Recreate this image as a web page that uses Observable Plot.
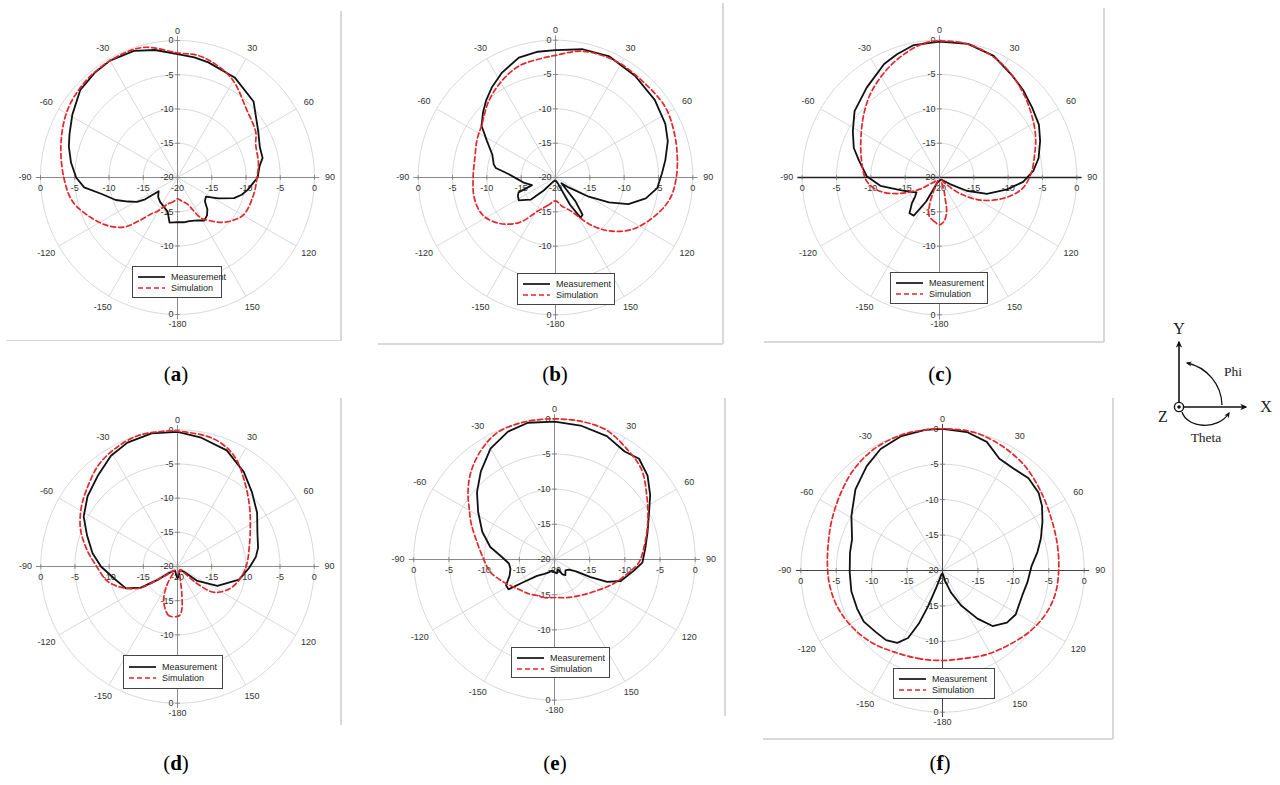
<!DOCTYPE html>
<html><head><meta charset="utf-8">
<script src="https://cdn.jsdelivr.net/npm/d3@7"></script>
<script src="https://cdn.jsdelivr.net/npm/@observablehq/plot@0.6"></script>
<style>
body{margin:0;background:#fff;}
#page{position:relative;width:1280px;height:785px;overflow:hidden;background:#fff;font-family:Arial,"Liberation Sans",sans-serif;}
.panel{position:absolute;}
.legend{position:absolute;border:1px solid #444;background:#fff;box-sizing:border-box;}
.legend .row{position:absolute;left:0;height:10px;display:flex;align-items:center;font-size:9px;color:#222;white-space:nowrap;}
.cap{position:absolute;font-family:"Liberation Serif","DejaVu Serif",serif;font-size:21px;color:#000;transform:translate(-50%,-50%);white-space:nowrap;}
.frame{position:absolute;background:#d8d8d8;}
</style></head>
<body><div id="page"></div>
<script>
// ---------- DATA: [theta (deg, clockwise from top), gain (dB)] ----------
const measA = [[-180,-13.5],[-170,-13.3],[-164,-14.8],[-155,-15.3],[-145,-15.6],[-135,-16.0],[-126,-16.6],[-124,-14.3],[-121,-13.1],[-116,-12.0],[-110,-10.4],[-102,-8.6],[-96,-6.3],[-90,-5.2],[-82,-4.3],[-74,-3.5],[-68,-3.0],[-59,-2.1],[-48,-0.9],[-38,-0.5],[-30,-0.3],[-19,-0.45],[-10,-1.1],[0,-2.0],[8,-2.3],[15,-2.6],[30,-3.2],[45,-4.3],[60,-6.4],[70,-7.2],[77,-7.25],[82,-7.9],[90,-8.3],[100,-9.6],[105,-10.3],[110,-11.2],[117,-13.3],[124,-15.0],[131,-14.7],[137,-13.6],[142,-13.0],[148,-12.6],[155,-13.1],[165,-13.4],[172,-13.4]];
const simA = [[-180,-16.9],[-170,-16.4],[-160,-15.9],[-150,-14.4],[-144,-13.4],[-138,-11.4],[-133,-9.4],[-125,-7.7],[-115,-6.1],[-103,-4.3],[-90,-3.4],[-74,-2.3],[-59,-1.2],[-45,-0.6],[-30,-0.3],[-15,-0.35],[0,-1.8],[11,-2.0],[28,-3.45],[46,-5.9],[60,-6.8],[67,-7.6],[80,-8.0],[90,-8.4],[102,-8.6],[119,-8.9],[128,-9.8],[136,-10.9],[143,-12.1],[150,-13.2],[160,-15.9],[170,-16.5]];

const measB = [[-180,-19.5],[-160,-19.5],[-145,-19.0],[-138,-17.5],[-132,-15.2],[-127,-14.6],[-122,-13.7],[-116,-13.9],[-112,-14.2],[-108,-16.4],[-100,-15.4],[-92,-14.4],[-86,-13.2],[-81,-11.2],[-78,-10.8],[-70,-10.2],[-62,-8.7],[-55,-6.85],[-48,-5.8],[-42,-4.9],[-35,-3.9],[-27,-2.85],[-17,-1.75],[-8,-1.5],[0,-1.45],[12,-0.9],[24,-0.7],[38,-1.2],[52,-1.65],[64,-2.2],[72,-2.8],[81,-3.8],[88,-4.5],[96,-5.1],[103,-6.5],[110,-8.7],[115,-11.4],[120,-14.4],[127,-17.6],[134,-18.8],[140,-15.5],[144,-13.3],[148,-13.1],[152,-15.5],[158,-19.0],[170,-19.5]];
const simB = [[-180,-16.6],[-165,-15.8],[-153,-14.6],[-141,-11.55],[-129,-9.4],[-117,-8.05],[-104,-7.8],[-90,-8.0],[-76,-7.9],[-64,-7.3],[-55,-6.85],[-41,-5.2],[-29,-3.9],[-18,-2.9],[-6,-2.5],[0,-2.2],[12,-1.2],[27,-0.9],[42,-1.1],[57,-1.0],[68,-1.45],[79,-1.95],[90,-2.4],[100,-3.0],[110,-4.3],[124,-6.5],[135,-9.0],[144,-11.6],[154,-14.4],[168,-15.8]];

const measC = [[-180,-19.5],[-165,-19.4],[-156,-19.0],[-151,-16.0],[-146,-13.3],[-140,-13.2],[-133,-14.5],[-128,-15.5],[-123,-16.0],[-116,-15.2],[-108,-14.0],[-98,-11.3],[-89,-9.4],[-78,-8.0],[-71,-6.8],[-62,-5.7],[-52,-4.3],[-39,-3.15],[-26,-1.6],[-19,-1.0],[-11,-0.35],[0,-0.2],[12,-0.1],[24,-0.6],[36,-1.8],[44,-2.4],[53,-3.1],[62,-3.6],[70,-4.4],[79,-5.3],[86,-6.3],[93,-7.8],[100,-10.0],[109,-12.7],[116,-15.6],[122,-18.2],[135,-19.5],[150,-19.6],[165,-19.6]];
const simC = [[-180,-13.1],[-174,-13.5],[-165,-14.2],[-160,-15.8],[-155,-18.5],[-148,-19.5],[-140,-19.5],[-130,-19.0],[-124,-18.0],[-121,-16.7],[-112,-13.8],[-103,-11.1],[-93,-9.4],[-78,-8.4],[-61,-6.95],[-48,-5.35],[-38,-4.0],[-26,-2.5],[-16,-1.3],[-7,-0.35],[0,-0.1],[14,-0.2],[28,-1.05],[42,-2.4],[54,-3.6],[66,-4.7],[76,-5.7],[88,-6.7],[98,-7.9],[108,-10.2],[119,-13.2],[128,-16.2],[135,-18.6],[145,-19.5],[155,-19.4],[161,-18.0],[165,-16.8],[168,-15.0],[174,-13.6]];

const measD = [[-180,-18.3],[-170,-18.8],[-150,-19.3],[-135,-19.0],[-127,-18.4],[-124,-16.5],[-120,-13.8],[-113,-11.8],[-101,-10.6],[-90,-8.8],[-81,-7.4],[-71,-6.0],[-62,-4.45],[-52,-3.3],[-41,-2.3],[-31,-1.1],[-22,-0.45],[-11,-0.15],[0,-0.3],[10,-0.8],[23,-1.55],[35,-3.1],[45,-4.6],[56,-5.95],[67,-7.3],[77,-7.9],[83,-8.45],[91,-9.5],[102,-10.8],[116,-13.5],[126,-16.4],[129,-18.7],[140,-19.3],[160,-19.2],[172,-18.5]];
const simD = [[-180,-12.7],[-170,-12.7],[-158,-14.6],[-150,-17.0],[-142,-19.3],[-133,-19.0],[-128,-18.0],[-124,-16.8],[-120,-13.75],[-112,-11.6],[-102,-9.55],[-89,-8.05],[-80,-6.6],[-69,-4.8],[-59,-3.55],[-50,-2.6],[-38,-1.2],[-28,-0.5],[-17,0],[-8,-0.1],[0,-0.2],[16,-0.6],[27,-1.8],[37,-3.9],[50,-6.25],[63,-8.05],[76,-9.2],[88,-9.85],[100,-10.6],[112,-11.6],[125,-13.4],[131,-16.1],[134,-18.7],[145,-19.4],[160,-19.3],[168,-18.0],[171,-16.0],[174,-13.8],[177,-12.9]];

const measE = [[-180,-18.2],[-168,-18.4],[-156,-18.0],[-145,-17.5],[-133,-16.6],[-126,-14.5],[-123,-12.2],[-118,-12.2],[-110,-13.2],[-102,-13.6],[-95,-13.5],[-86,-12.3],[-79,-10.7],[-69,-9.0],[-58,-7.2],[-49,-5.4],[-40,-3.7],[-30,-1.8],[-20,-0.65],[-11,-0.2],[0,-0.4],[11,-0.6],[23,-0.95],[33,-1.7],[40,-1.3],[48,-2.2],[56,-3.6],[63,-4.9],[74,-6.25],[83,-7.0],[92,-7.5],[98,-8.6],[108,-10.1],[113,-11.85],[116,-14.3],[119,-16.5],[125,-17.5],[135,-17.8],[145,-17.3],[152,-17.6],[160,-18.5],[170,-18.0]];
const simE = [[-180,-14.6],[-166,-14.4],[-154,-14.3],[-143,-13.9],[-132,-13.5],[-114,-12.1],[-101,-10.7],[-90,-9.95],[-75,-8.4],[-66,-7.0],[-59,-5.85],[-52,-4.4],[-44,-2.85],[-34,-1.3],[-24,-0.2],[-14,0],[-6,0],[0,0],[11,0],[22,-0.2],[33,-1.2],[44,-2.2],[55,-4.0],[68,-5.7],[81,-7.05],[92,-8.0],[100,-9.3],[112,-10.9],[126,-12.5],[144,-13.7],[162,-14.3]];

const measF = [[-180,-19.6],[-165,-19.4],[-160,-17.5],[-158,-14.5],[-156,-11.8],[-153,-9.3],[-148,-7.95],[-141,-7.35],[-133,-7.2],[-123,-6.75],[-114,-6.8],[-103,-6.8],[-91,-6.9],[-79,-6.7],[-71,-6.5],[-59,-5.0],[-47,-3.2],[-36,-1.8],[-27,-0.75],[-17,-0.15],[-7,0],[0,0],[10,-0.15],[19,-0.8],[27,-2.3],[35,-2.45],[43,-2.2],[51,-2.55],[57,-3.25],[64,-4.3],[72,-5.4],[79,-6.35],[87,-7.4],[98,-7.9],[107,-8.2],[121,-7.95],[129,-8.3],[138,-9.45],[144,-11.6],[152,-14.4],[159,-16.7],[166,-18.5],[172,-19.4]];
const simF = [[-180,-7.3],[-166,-7.15],[-149,-6.6],[-135,-5.7],[-121,-4.9],[-109,-4.3],[-98,-3.95],[-88,-3.75],[-76,-3.4],[-65,-2.8],[-52,-1.9],[-41,-1.0],[-29,-0.3],[-17,0],[-7,0],[0,0],[13,0],[25,-0.5],[38,-1.2],[52,-2.25],[66,-3.05],[78,-3.4],[90,-3.6],[102,-3.75],[113,-4.2],[124,-4.9],[137,-5.85],[152,-6.6],[168,-7.25]];

// ---------- TICKS / LABELS ----------
const ringTicks = [-15, -10, -5, 0];
const upperRadialTicks = [0, -5, -10, -15, -20];
const lowerRadialTicks = [-15, -10, 0];   // lower "-5" sits under the legend box
const angleTicks = [0, 30, 60, 90, 120, 150, 180, -150, -120, -90, -60, -30];
const angleLabels = ["0", "30", "60", "90", "120", "150", "-180", "-150", "-120", "-90", "-60", "-30"];
const seriesNames = ["Measurement", "Simulation"];
const captionLetters = ["a", "b", "c", "d", "e", "f"];

// ---------- LAYOUT ----------
const panels = [
  {meas: measA, sim: simA, cx: 176.7, cy: 176.7, R: 137,   h: "#8a8a8a", hw: 1,   v: "#8a8a8a", leg: [132, 266, 90, 32],  cap: [176, 374]},
  {meas: measB, sim: simB, cx: 555,   cy: 176.7, R: 137.3, h: "#8a8a8a", hw: 1,   v: "#8a8a8a", leg: [517, 273, 98, 32],  cap: [555, 374]},
  {meas: measC, sim: simC, cx: 939.3, cy: 176.7, R: 137.3, h: "#222",    hw: 1.4, v: "#8a8a8a", leg: [890, 272, 98, 32],  cap: [940, 374]},
  {meas: measD, sim: simD, cx: 176.7, cy: 565.7, R: 136.7, h: "#8a8a8a", hw: 1,   v: "#8a8a8a", leg: [123, 655, 100, 34], cap: [176, 763]},
  {meas: measE, sim: simE, cx: 554,   cy: 559,   R: 140.7, h: "#8a8a8a", hw: 1,   v: "#8a8a8a", leg: [511, 647, 99, 31],  cap: [555, 763]},
  {meas: measF, sim: simF, cx: 941.7, cy: 570,   R: 141.7, h: "#444",    hw: 1.1, v: "#444",    leg: [893, 668, 102, 31], cap: [940, 763]}
];
const frames = [
  [340, 11, 1.5, 330], [6, 339.5, 335, 1.5],
  [722, 3, 1.5, 341], [378, 343, 345, 1.5],
  [1103, 8, 1.5, 334], [764, 341, 340, 1.5],
  [340, 398, 1.5, 327],
  [724, 398, 1.5, 318],
  [1112, 398, 1.5, 341], [763, 738, 350, 1.5]
];

const RED = "#e3262c", BLACK = "#111";
const deg = Math.PI / 180;
const rad = db => Math.max(0, db + 20);
const px = (t, db) => rad(db) * Math.sin(t * deg);
const py = (t, db) => rad(db) * Math.cos(t * deg);
const page = document.getElementById("page");

function drawPanel(p) {
  const S = 360, c = S / 2;
  const rows = arr => arr.map(([theta, db]) => ({theta, db}));
  const ringPts = ringTicks.flatMap(db => d3.range(0, 360, 2).map(a => ({db, theta: a})));
  const spokes = d3.range(0, 360, 30).filter(a => a % 90 !== 0).map(a => ({theta: a}));
  const angleRows = angleTicks.map((a, i) => ({theta: a, label: angleLabels[i]}));
  const lr = d => 20 + 1.4 + 0.85 * Math.abs(Math.sin(d.theta * deg));
  const horiz = [
    ...ringTicks.map(d => ({x: -(d + 20), t: d})),
    {x: 0, t: -20},
    ...ringTicks.map(d => ({x: d + 20, t: d}))
  ];
  const vTicks = [...ringTicks.map(d => d + 20), ...ringTicks.map(d => -(d + 20))];
  const marks = [
    Plot.line(ringPts, {x: d => px(d.theta, d.db), y: d => py(d.theta, d.db), z: "db", curve: "linear-closed", stroke: "#d4d4d4", strokeWidth: 0.9}),
    Plot.link(spokes, {x1: 0, y1: 0, x2: d => 20 * Math.sin(d.theta * deg), y2: d => 20 * Math.cos(d.theta * deg), stroke: "#d4d4d4", strokeWidth: 0.9}),
    Plot.link([0], {x1: -20.7, x2: 20.7, y1: 0, y2: 0, stroke: p.h, strokeWidth: p.hw}),
    Plot.link([0], {x1: 0, x2: 0, y1: -20.7, y2: 20.7, stroke: p.v, strokeWidth: 1}),
    Plot.link(vTicks, {x1: -0.35, x2: 0.35, y1: d => d, y2: d => d, stroke: "#777", strokeWidth: 0.8}),
    Plot.link(vTicks, {y1: -0.35, y2: 0.35, x1: d => d, x2: d => d, stroke: "#777", strokeWidth: 0.8}),
    Plot.text(angleRows, {x: d => lr(d) * Math.sin(d.theta * deg), y: d => lr(d) * Math.cos(d.theta * deg), text: "label", fontSize: 9, fill: "#333"}),
    Plot.text(upperRadialTicks, {x: 0, y: d => d + 20, text: d => String(d), textAnchor: "end", dx: -4, fontSize: 9, fill: "#333"}),
    Plot.text(lowerRadialTicks, {x: 0, y: d => -(d + 20), text: d => String(d), textAnchor: "end", dx: -4, fontSize: 9, fill: "#333"}),
    Plot.text(horiz, {x: "x", y: 0, dy: 11, text: d => String(d.t), fontSize: 9, fill: "#333"}),
    Plot.line(rows(p.meas), {x: d => px(d.theta, d.db), y: d => py(d.theta, d.db), curve: "linear-closed", stroke: BLACK, strokeWidth: 1.8}),
    Plot.line(rows(p.sim), {x: d => px(d.theta, d.db), y: d => py(d.theta, d.db), curve: "catmull-rom-closed", stroke: RED, strokeWidth: 1.7, strokeDasharray: "5,3"})
  ];
  const svg = Plot.plot({
    width: S, height: S, margin: 0,
    x: {domain: [-20, 20], range: [c - p.R, c + p.R], axis: null},
    y: {domain: [-20, 20], range: [c + p.R, c - p.R], axis: null},
    style: {background: "transparent", overflow: "visible", fontFamily: "Arial, 'Liberation Sans', sans-serif"},
    marks
  });
  svg.classList.add("panel");
  svg.style.left = (p.cx - c) + "px";
  svg.style.top = (p.cy - c) + "px";
  svg.style.position = "absolute";
  page.appendChild(svg);

  // legend box
  const [l, t, w, h] = p.leg;
  const box = document.createElement("div");
  box.className = "legend";
  Object.assign(box.style, {left: l + "px", top: t + "px", width: w + "px", height: h + "px"});
  seriesNames.forEach((name, i) => {
    const row = document.createElement("div");
    row.className = "row";
    row.style.top = (h / 2 - 11 + i * 11) + "px";
    const dash = i === 1 ? 'stroke-dasharray="5,3"' : "";
    row.innerHTML = `<svg width="34" height="10" style="margin-left:4px"><line x1="1" y1="5" x2="28" y2="5" stroke="${i ? RED : BLACK}" stroke-width="1.7" ${dash}/></svg><span>${name}</span>`;
    box.appendChild(row);
  });
  page.appendChild(box);
}

frames.forEach(([x, y, w, h]) => {
  const f = document.createElement("div");
  f.className = "frame";
  Object.assign(f.style, {left: x + "px", top: y + "px", width: w + "px", height: h + "px"});
  page.appendChild(f);
});

panels.forEach(drawPanel);

panels.forEach((p, i) => {
  const cap = document.createElement("div");
  cap.className = "cap";
  cap.style.left = p.cap[0] + "px";
  cap.style.top = p.cap[1] + "px";
  cap.innerHTML = `(<b>${captionLetters[i]}</b>)`;
  page.appendChild(cap);
});

// coordinate-system sketch
const sketch = document.createElement("div");
sketch.innerHTML = `<svg width="140" height="135" viewBox="1140 315 140 135" style="position:absolute;left:1140px;top:315px;overflow:visible">
<defs><marker id="ah" viewBox="0 0 10 10" refX="8" refY="5" markerWidth="4.5" markerHeight="4.5" orient="auto"><path d="M0,0.5 L10,5 L0,9.5 L3,5 z" fill="#111"/></marker></defs>
<line x1="1179" y1="402" x2="1179" y2="342" stroke="#111" stroke-width="1.6" marker-end="url(#ah)"/>
<line x1="1184" y1="407" x2="1246" y2="407" stroke="#111" stroke-width="1.6" marker-end="url(#ah)"/>
<circle cx="1179" cy="407" r="4.6" fill="#fff" stroke="#111" stroke-width="1.4"/>
<circle cx="1179" cy="407" r="1.8" fill="#111"/>
<path d="M1222,405 A44,44 0 0 0 1187,363" fill="none" stroke="#111" stroke-width="1.3" marker-end="url(#ah)"/>
<path d="M1182,412 C1187,428 1218,431 1229,413" fill="none" stroke="#111" stroke-width="1.3" marker-end="url(#ah)"/>
<g font-family="'Liberation Serif','DejaVu Serif',serif" fill="#222">
<text x="1179" y="334" font-size="16" text-anchor="middle">Y</text>
<text x="1266" y="412" font-size="16" text-anchor="middle">X</text>
<text x="1163" y="422" font-size="16" text-anchor="middle">Z</text>
<text x="1233" y="376" font-size="13.5" text-anchor="middle">Phi</text>
<text x="1206" y="442" font-size="13.5" text-anchor="middle">Theta</text>
</g></svg>`;
page.appendChild(sketch);
</script>
</body></html>
